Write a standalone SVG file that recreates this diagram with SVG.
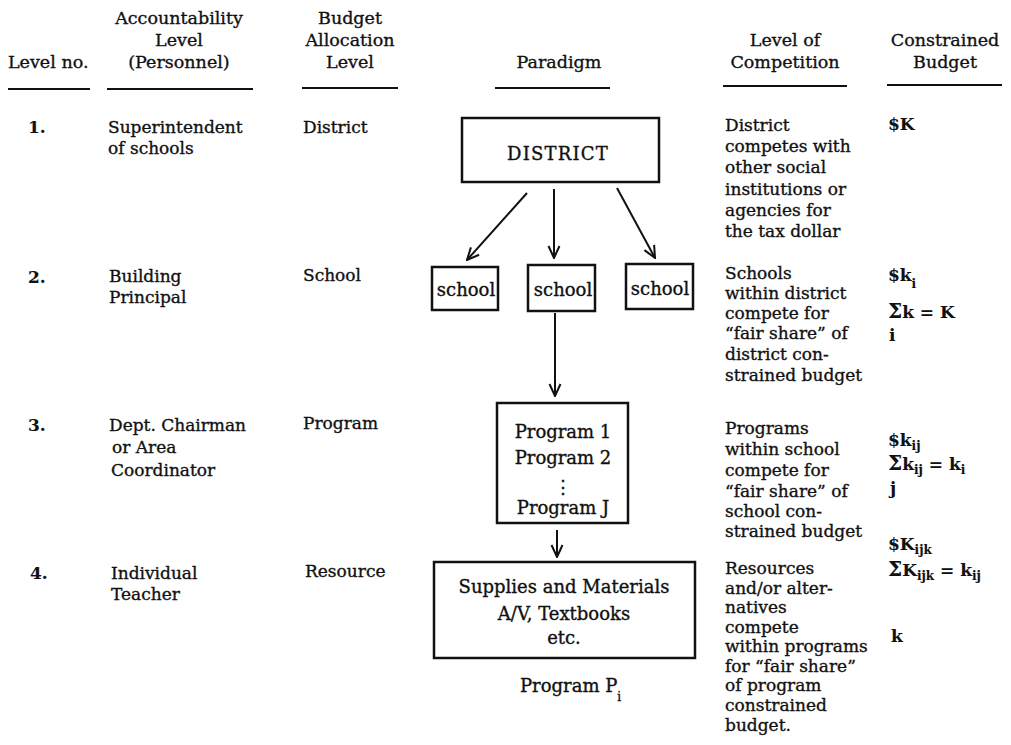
<svg xmlns="http://www.w3.org/2000/svg" width="1011" height="745" viewBox="0 0 1011 745">
<style>
text{font-family:"DejaVu Serif","Liberation Serif",serif;font-size:17px;fill:#111;stroke:#111;stroke-width:0.35}
.h{font-size:17.5px}
.c{text-anchor:middle}
.b{font-weight:bold;stroke-width:0.1}
.box{fill:#fff;stroke:#111;stroke-width:2.5}
.ul{stroke:#111;stroke-width:2.2}
.con{stroke:#111;stroke-width:2;fill:none}
.sub{font-size:12px}
.bt{font-size:18px}
.sig{font-size:20px}
</style>
<defs>
<marker id="ah" markerUnits="userSpaceOnUse" viewBox="0 0 14 14" refX="13" refY="7" markerWidth="14" markerHeight="14" orient="auto">
<path d="M1,1.5 L13,7 L1,12.5" fill="none" stroke="#111" stroke-width="2"/>
</marker>
</defs>
<rect width="1011" height="745" fill="#fff"/>

<g id="headers">
<text class="h" x="8" y="68">Level no.</text>
<text class="h c" x="179" y="24">Accountability</text>
<text class="h c" x="179" y="46">Level</text>
<text class="h c" x="179" y="68">(Personnel)</text>
<text class="h c" x="350" y="24">Budget</text>
<text class="h c" x="350" y="46">Allocation</text>
<text class="h c" x="350" y="68">Level</text>
<text class="h c" x="559" y="68">Paradigm</text>
<text class="h c" x="785" y="46">Level of</text>
<text class="h c" x="785" y="68">Competition</text>
<text class="h c" x="945" y="46">Constrained</text>
<text class="h c" x="945" y="68">Budget</text>
<line class="ul" x1="8" y1="89" x2="90" y2="89"/>
<line class="ul" x1="107" y1="89" x2="253" y2="89"/>
<line class="ul" x1="302" y1="88" x2="398" y2="88"/>
<line class="ul" x1="495" y1="88" x2="610" y2="88"/>
<line class="ul" x1="723" y1="86" x2="847" y2="86"/>
<line class="ul" x1="887" y1="85" x2="1002" y2="85"/>
</g>

<g id="row1">
<text class="b" x="28" y="133">1.</text>
<text x="108" y="133">Superintendent</text>
<text x="108" y="154">of schools</text>
<text x="303" y="133">District</text>
<text x="725" y="131">District</text>
<text x="725" y="152">competes with</text>
<text x="725" y="173">other social</text>
<text x="725" y="195">institutions or</text>
<text x="725" y="216">agencies for</text>
<text x="725" y="237">the tax dollar</text>
<text class="b" x="888" y="130">$K</text>
</g>

<g id="row2">
<text class="b" x="28" y="283">2.</text>
<text x="109" y="282">Building</text>
<text x="109" y="303">Principal</text>
<text x="303" y="281">School</text>
<text x="725" y="279">Schools</text>
<text x="725" y="299">within district</text>
<text x="725" y="319">compete for</text>
<text x="725" y="339">“fair share” of</text>
<text x="725" y="360">district con-</text>
<text x="725" y="381">strained budget</text>
<text class="b" x="888" y="281">$k<tspan class="sub" dy="7">i</tspan></text>
<text class="b" x="888" y="318"><tspan class="sig">Σ</tspan>k = K</text>
<text class="b" x="889" y="341">i</text>
</g>

<g id="row3">
<text class="b" x="28" y="431">3.</text>
<text x="109" y="431">Dept. Chairman</text>
<text x="112" y="453">or Area</text>
<text x="111" y="476">Coordinator</text>
<text x="303" y="429">Program</text>
<text x="725" y="434">Programs</text>
<text x="725" y="455">within school</text>
<text x="725" y="476">compete for</text>
<text x="725" y="497">“fair share” of</text>
<text x="725" y="517">school con-</text>
<text x="725" y="537">strained budget</text>
<text class="b" x="888" y="446">$k<tspan class="sub" dy="4">ij</tspan></text>
<text class="b" x="888" y="470"><tspan class="sig">Σ</tspan>k<tspan class="sub" dy="4">ij</tspan><tspan dy="-4"> = k</tspan><tspan class="sub" dy="4">i</tspan></text>
<text class="b" x="890" y="494">j</text>
</g>

<g id="row4">
<text class="b" x="30" y="579">4.</text>
<text x="111" y="579">Individual</text>
<text x="111" y="600">Teacher</text>
<text x="305" y="577">Resource</text>
<text x="725" y="574">Resources</text>
<text x="725" y="594">and/or alter-</text>
<text x="725" y="613">natives</text>
<text x="725" y="633">compete</text>
<text x="725" y="652">within programs</text>
<text x="725" y="672">for “fair share”</text>
<text x="725" y="691">of program</text>
<text x="725" y="711">constrained</text>
<text x="725" y="731">budget.</text>
<text class="b" x="888" y="550">$K<tspan class="sub" dy="4">ijk</tspan></text>
<text class="b" x="888" y="576"><tspan class="sig">Σ</tspan>K<tspan class="sub" dy="4">ijk</tspan><tspan dy="-4"> = k</tspan><tspan class="sub" dy="4">ij</tspan></text>
<text class="b" x="891" y="642">k</text>
</g>

<g id="connectors">
<line class="con" x1="527" y1="193" x2="467" y2="260" marker-end="url(#ah)"/>
<line class="con" x1="554" y1="189" x2="554" y2="258" marker-end="url(#ah)"/>
<line class="con" x1="617" y1="188" x2="655" y2="258" marker-end="url(#ah)"/>
<line class="con" x1="555" y1="313" x2="555" y2="396" marker-end="url(#ah)"/>
<line class="con" x1="557" y1="530" x2="557" y2="557" marker-end="url(#ah)"/>
</g>

<g id="district">
<rect class="box" x="462" y="118" width="197" height="64"/>
<text class="bt c" x="558" y="160" letter-spacing="1.2">DISTRICT</text>
</g>
<g id="school1">
<rect class="box" x="432" y="267" width="66" height="43"/>
<text class="bt c" x="466" y="296">school</text>
</g>
<g id="school2">
<rect class="box" x="528" y="265" width="67" height="46"/>
<text class="bt c" x="563" y="296">school</text>
</g>
<g id="school3">
<rect class="box" x="626" y="264" width="67" height="45"/>
<text class="bt c" x="660" y="295">school</text>
</g>
<g id="programs">
<rect class="box" x="497" y="403" width="131" height="120"/>
<text class="bt c" x="563" y="438">Program 1</text>
<text class="bt c" x="563" y="464">Program 2</text>
<text class="bt c" x="563" y="493">⋮</text>
<text class="bt c" x="563" y="514">Program J</text>
</g>
<g id="resources">
<rect class="box" x="434" y="562" width="261" height="96"/>
<text class="bt c" x="564" y="593">Supplies and Materials</text>
<text class="bt c" x="564" y="620">A/V, Textbooks</text>
<text class="bt c" x="564" y="644">etc.</text>
<text class="bt" x="520" y="692">Program P<tspan class="sub" dy="9">i</tspan></text>
</g>
</svg>
